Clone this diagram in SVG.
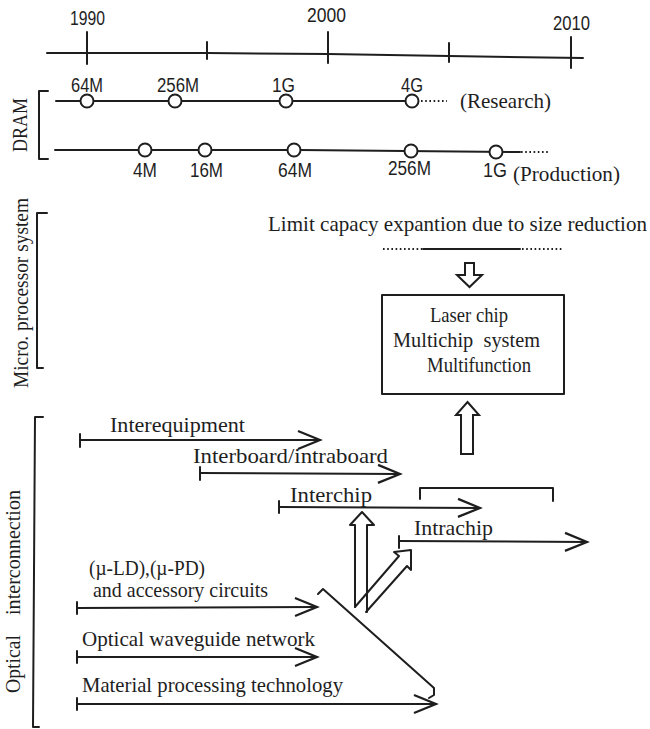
<svg xmlns="http://www.w3.org/2000/svg" width="650" height="729" viewBox="0 0 650 729">
<style>
.ln{fill:none;stroke:#1e1e1e;stroke-width:2;stroke-linecap:round;stroke-linejoin:round}
.dot{fill:none;stroke:#1e1e1e;stroke-width:2;stroke-dasharray:1.6 2.6}
.hol{fill:#fff;stroke:#1e1e1e;stroke-width:2;stroke-linejoin:miter}
.c{fill:#fff;stroke:#1e1e1e;stroke-width:2}
.sa{font-family:"Liberation Sans",Arial,sans-serif;font-size:20px;fill:#1e1e1e}
.se{font-family:"Liberation Serif","Times New Roman",serif;font-size:21px;fill:#1e1e1e}
</style>
<defs>
<marker id="ah" markerUnits="userSpaceOnUse" markerWidth="26" markerHeight="22" refX="22" refY="10" orient="auto" overflow="visible">
<path d="M0,1 Q11,5.5 22,10 Q11,14.5 0,19" fill="none" stroke="#1e1e1e" stroke-width="2.2"/>
</marker>
</defs>
<rect width="650" height="729" fill="#fff"/>

<g id="timeline">
<polyline class="ln" points="47,53 207,53 328,54 449,56 583,58"/>
<line class="ln" x1="87" y1="32" x2="87" y2="64"/>
<line class="ln" x1="207" y1="42" x2="207" y2="59"/>
<line class="ln" x1="328" y1="32" x2="328" y2="63"/>
<line class="ln" x1="449" y1="43" x2="449" y2="62"/>
<line class="ln" x1="571" y1="37" x2="571" y2="68"/>
<text class="sa" x="70" y="25" textLength="35" lengthAdjust="spacingAndGlyphs">1990</text>
<text class="sa" x="307" y="22" textLength="39" lengthAdjust="spacingAndGlyphs">2000</text>
<text class="sa" x="553" y="30" textLength="37" lengthAdjust="spacingAndGlyphs">2010</text>
</g>

<g id="dram">
<text class="se" transform="translate(27,125) rotate(-90)" text-anchor="middle" font-size="20" textLength="54" lengthAdjust="spacingAndGlyphs">DRAM</text>
<polyline class="ln" points="48,91 39,91 39,159 48,159"/>
</g>

<g id="dram-research">
<line class="ln" x1="56" y1="101" x2="412" y2="101"/>
<line class="dot" x1="421" y1="101" x2="447" y2="101"/>
<circle class="c" cx="87" cy="101" r="6.5"/>
<circle class="c" cx="175" cy="101" r="6.5"/>
<circle class="c" cx="286" cy="101" r="6.5"/>
<circle class="c" cx="412" cy="101" r="6.5"/>
<text class="sa" x="71" y="92" textLength="32" lengthAdjust="spacingAndGlyphs">64M</text>
<text class="sa" x="157" y="92" textLength="42" lengthAdjust="spacingAndGlyphs">256M</text>
<text class="sa" x="272" y="92" textLength="23" lengthAdjust="spacingAndGlyphs">1G</text>
<text class="sa" x="401" y="92" textLength="22" lengthAdjust="spacingAndGlyphs">4G</text>
<text class="se" x="460" y="108" textLength="91" lengthAdjust="spacingAndGlyphs">(Research)</text>
</g>

<g id="dram-production">
<polyline class="ln" points="55,150 300,150 520,152"/>
<line class="dot" x1="521" y1="152" x2="548" y2="152"/>
<circle class="c" cx="145" cy="150" r="6.5"/>
<circle class="c" cx="205" cy="150" r="6.5"/>
<circle class="c" cx="294" cy="150" r="6.5"/>
<circle class="c" cx="411" cy="151" r="6.5"/>
<circle class="c" cx="496" cy="152" r="6.5"/>
<text class="sa" x="133" y="177" textLength="24" lengthAdjust="spacingAndGlyphs">4M</text>
<text class="sa" x="190" y="177" textLength="33" lengthAdjust="spacingAndGlyphs">16M</text>
<text class="sa" x="278" y="177" textLength="34" lengthAdjust="spacingAndGlyphs">64M</text>
<text class="sa" x="388" y="175" textLength="43" lengthAdjust="spacingAndGlyphs">256M</text>
<text class="sa" x="483" y="177" textLength="24" lengthAdjust="spacingAndGlyphs">1G</text>
<text class="se" x="513" y="181" textLength="107" lengthAdjust="spacingAndGlyphs">(Production)</text>
</g>

<g id="microprocessor">
<text class="se" transform="translate(28,293) rotate(-90)" text-anchor="middle" font-size="21" textLength="190" lengthAdjust="spacingAndGlyphs">Micro. processor system</text>
<polyline class="ln" points="47,213 37,213 37,368 43,368"/>
</g>

<g id="limit">
<text class="se" x="268" y="231" font-size="22" textLength="379" lengthAdjust="spacingAndGlyphs">Limit capacy expantion due to size reduction</text>
<line class="dot" x1="383" y1="249" x2="422" y2="249"/>
<line class="ln" x1="423" y1="249" x2="520" y2="249"/>
<line class="dot" x1="522" y1="249" x2="563" y2="249"/>
</g>

<g id="box">
<rect class="ln" x="382" y="295" width="182" height="99"/>
<text class="se" x="430" y="322" textLength="78" lengthAdjust="spacingAndGlyphs">Laser chip</text>
<text class="se" x="393" y="347" textLength="147" lengthAdjust="spacingAndGlyphs" xml:space="preserve">Multichip  system</text>
<text class="se" x="427" y="372" textLength="104" lengthAdjust="spacingAndGlyphs">Multifunction</text>
</g>

<g id="optical">
<text class="se" transform="translate(20,693) rotate(-90)" font-size="21"><tspan x="0" textLength="58" lengthAdjust="spacingAndGlyphs">Optical</tspan><tspan x="78" textLength="125" lengthAdjust="spacingAndGlyphs">interconnection</tspan></text>
<polyline class="ln" points="43,417 35,417 33,727 39,727"/>
</g>

<g id="labels">
<text class="se" x="110" y="432" textLength="135" lengthAdjust="spacingAndGlyphs">Interequipment</text>
<text class="se" x="193" y="463" textLength="195" lengthAdjust="spacingAndGlyphs">Interboard/intraboard</text>
<text class="se" x="290" y="502" textLength="82" lengthAdjust="spacingAndGlyphs">Interchip</text>
<text class="se" x="414" y="535" textLength="79" lengthAdjust="spacingAndGlyphs">Intrachip</text>
<text class="se" x="89" y="575" font-size="18" textLength="116" lengthAdjust="spacingAndGlyphs">(µ-LD),(µ-PD)</text>
<text class="se" x="93" y="597" font-size="18" textLength="175" lengthAdjust="spacingAndGlyphs">and accessory circuits</text>
<text class="se" x="82" y="646" textLength="233" lengthAdjust="spacingAndGlyphs">Optical waveguide network</text>
<text class="se" x="82" y="692" textLength="261" lengthAdjust="spacingAndGlyphs">Material processing technology</text>
</g>

<g id="connectors">
<polygon class="hol" points="465,263 474,263 474,275 482,275 469.5,287 457,275 465,275"/>
<polygon class="hol" points="467.5,402 479,415 473,415 473,454 461,454 461,415 456,415"/>
<path class="ln" d="M420,499 L420,488 L553,488 L553,501"/>

<line class="ln" x1="80" y1="440" x2="320" y2="440" marker-end="url(#ah)"/>
<line class="ln" x1="80" y1="434" x2="80" y2="447"/>
<line class="ln" x1="200" y1="473" x2="400" y2="474" marker-end="url(#ah)"/>
<line class="ln" x1="200" y1="467" x2="200" y2="480"/>
<line class="ln" x1="279" y1="507" x2="480" y2="508" marker-end="url(#ah)"/>
<line class="ln" x1="279" y1="501" x2="279" y2="513"/>
<line class="ln" x1="399" y1="541" x2="587" y2="542" marker-end="url(#ah)"/>
<line class="ln" x1="399" y1="536" x2="399" y2="548"/>
<line class="ln" x1="77" y1="608" x2="317" y2="607" marker-end="url(#ah)"/>
<line class="ln" x1="77" y1="602" x2="77" y2="614"/>
<line class="ln" x1="77" y1="657" x2="317" y2="657" marker-end="url(#ah)"/>
<line class="ln" x1="77" y1="651" x2="77" y2="663"/>
<line class="ln" x1="77" y1="704" x2="436" y2="704" marker-end="url(#ah)"/>
<line class="ln" x1="77" y1="698" x2="77" y2="710"/>

<path class="ln" d="M355,607 L355,525 L350,525 L362,512 L374,525 L367,525 L367,612"/>
<path class="ln" d="M355,607 L399,556 L394,552 L411,550 L411,570 L407,566 L366,612"/>
<path class="ln" d="M318,594 L323,589 L434,688 L434,695 L429,698"/>
</g>
</svg>
